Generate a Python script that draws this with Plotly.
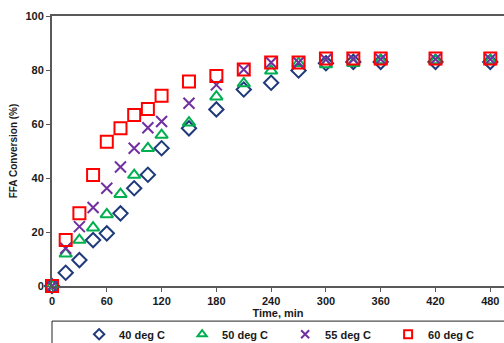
import plotly.graph_objects as go

times = [0, 15, 30, 45, 60, 75, 90, 105, 120, 150, 180, 210, 240, 270, 300, 330, 360, 420, 480]
conv_40 = [0, 4.9, 9.6, 17.0, 19.5, 26.9, 36.2, 41.2, 51.0, 58.4, 65.4, 72.8, 75.3, 79.8, 82.5, 83.0, 83.0, 83.0, 83.0]
conv_50 = [0, 11.9, 17.0, 21.6, 26.5, 34.0, 41.1, 51.0, 55.9, 60.5, 70.1, 75.0, 79.7, 82.5, 82.0, 82.5, 83.5, 83.5, 83.5]
conv_55 = [0, 14.0, 22.0, 29.1, 36.2, 44.1, 51.0, 58.6, 60.9, 67.7, 74.5, 80.2, 82.8, 82.8, 83.9, 84.0, 84.0, 84.0, 84.0]
conv_60 = [0, 17.0, 26.9, 41.1, 53.4, 58.4, 63.3, 65.6, 70.5, 75.7, 77.8, 80.2, 82.8, 82.8, 84.3, 84.3, 84.3, 84.3, 84.3]

series_names = ["40 deg C", "50 deg C", "55 deg C", "60 deg C"]
x_ticks = [0, 60, 120, 180, 240, 300, 360, 420, 480]
y_ticks = [0, 20, 40, 60, 80, 100]

styles = [
    dict(symbol="diamond-open", color="#1F3A7A", size=11),
    dict(symbol="triangle-up-open", color="#00B050", size=11),
    dict(symbol="x-thin-open", color="#7030A0", size=11),
    dict(symbol="square-open", color="#FF0000", size=12),
]

fig = go.Figure()
for name, vals, st in zip(series_names, [conv_40, conv_50, conv_55, conv_60], styles):
    fig.add_trace(go.Scatter(
        x=times, y=vals, mode="markers", name=name, showlegend=False,
        marker=dict(symbol=st["symbol"], size=st["size"], color=st["color"],
                    line=dict(color=st["color"], width=2)),
        cliponaxis=False,
    ))
# legend entries with smaller symbols, like the reference
for name, st in zip(series_names, styles):
    fig.add_trace(go.Scatter(
        x=[None], y=[None], mode="markers", name=name, showlegend=True,
        marker=dict(symbol=st["symbol"], size=8, color=st["color"],
                    line=dict(color=st["color"], width=2)),
    ))

font_family = "Liberation Sans"
fig.update_layout(
    width=504, height=343,
    margin=dict(l=52, r=0, t=16, b=57, autoexpand=False),
    paper_bgcolor="white", plot_bgcolor="white",
    font=dict(family=font_family, size=11, color="#1a1a1a", weight="bold"),
    showlegend=True,
    legend=dict(
        orientation="h", x=0.06, xanchor="left", y=-0.125, yanchor="top",
        borderwidth=0, entrywidth=58, bgcolor="rgba(0,0,0,0)",
        font=dict(size=11, family=font_family, color="#1a1a1a", weight="bold"),
        itemwidth=30, tracegroupgap=0,
    ),
    shapes=[dict(type="rect", xref="paper", yref="paper",
                 x0=0, x1=1.1, y0=-0.13, y1=-0.35,
                 line=dict(color="#222222", width=1), fillcolor="rgba(0,0,0,0)",
                 layer="below")],
)
fig.update_xaxes(
    range=[0, 495], tickvals=x_ticks, ticktext=[str(t) for t in x_ticks],
    showgrid=False, zeroline=False, automargin=False,
    showline=True, linecolor="#595959", linewidth=2, mirror=True,
    ticks="outside", ticklen=4, tickcolor="#595959",
    title=dict(text="Time, min", standoff=0, font=dict(size=11, weight="bold")),
)
fig.update_yaxes(
    range=[0, 100], tickvals=y_ticks, ticktext=[str(t) for t in y_ticks],
    showgrid=False, zeroline=False, automargin=False,
    showline=True, linecolor="#595959", linewidth=2,
    ticks="outside", ticklen=4, tickcolor="#595959",
    title=dict(text="FFA Conversion (%)", standoff=6, font=dict(size=10, weight="bold")),
)

fig.write_html("out.html", config={"displayModeBar": False},
               post_script="document.body.style.margin='0';document.body.style.overflow='hidden';")
